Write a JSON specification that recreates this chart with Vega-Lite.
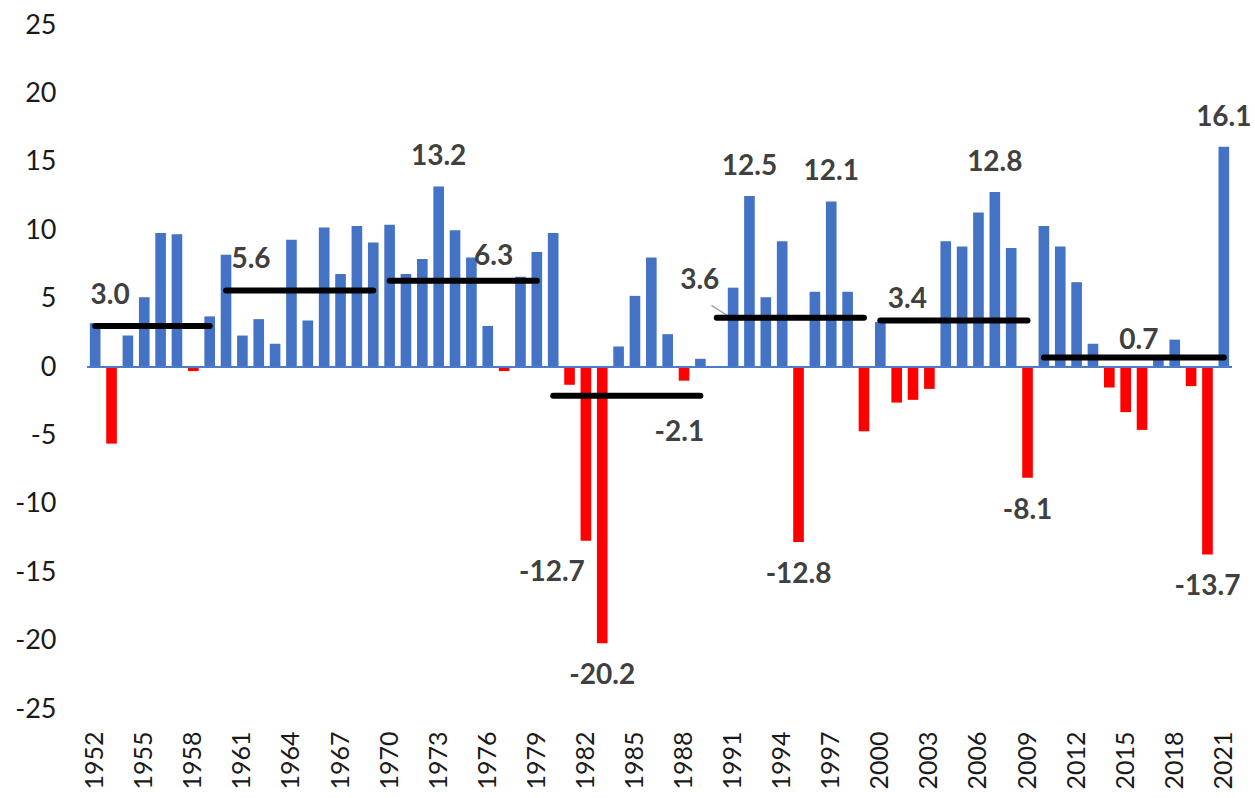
{
  "$schema": "https://vega.github.io/schema/vega-lite/v6.json",
  "width": 1145,
  "height": 684,
  "autosize": {"type": "none"},
  "padding": {"left": 87, "top": 25, "right": 23, "bottom": 89},
  "config": {
    "view": {"stroke": null},
    "font": "Lato",
    "locale": {"number": {"decimal": ".", "thousands": ",", "grouping": [3], "currency": ["$", ""], "minus": "-"}}
  },
  "datasets": {
    "growth": [
      {"year": 1952, "value": 3.2}, {"year": 1953, "value": -5.6}, {"year": 1954, "value": 2.3}, {"year": 1955, "value": 5.1},
      {"year": 1956, "value": 9.8}, {"year": 1957, "value": 9.7}, {"year": 1958, "value": -0.3}, {"year": 1959, "value": 3.7},
      {"year": 1960, "value": 8.2}, {"year": 1961, "value": 2.3}, {"year": 1962, "value": 3.5}, {"year": 1963, "value": 1.7},
      {"year": 1964, "value": 9.3}, {"year": 1965, "value": 3.4}, {"year": 1966, "value": 10.2}, {"year": 1967, "value": 6.8},
      {"year": 1968, "value": 10.3}, {"year": 1969, "value": 9.1}, {"year": 1970, "value": 10.4}, {"year": 1971, "value": 6.8},
      {"year": 1972, "value": 7.9}, {"year": 1973, "value": 13.2}, {"year": 1974, "value": 10.0}, {"year": 1975, "value": 8.0},
      {"year": 1976, "value": 3.0}, {"year": 1977, "value": -0.3}, {"year": 1978, "value": 6.6}, {"year": 1979, "value": 8.4},
      {"year": 1980, "value": 9.8}, {"year": 1981, "value": -1.3}, {"year": 1982, "value": -12.7}, {"year": 1983, "value": -20.2},
      {"year": 1984, "value": 1.5}, {"year": 1985, "value": 5.2}, {"year": 1986, "value": 8.0}, {"year": 1987, "value": 2.4},
      {"year": 1988, "value": -1.0}, {"year": 1989, "value": 0.6}, {"year": 1990, "value": 0.0}, {"year": 1991, "value": 5.8},
      {"year": 1992, "value": 12.5}, {"year": 1993, "value": 5.1}, {"year": 1994, "value": 9.2}, {"year": 1995, "value": -12.8},
      {"year": 1996, "value": 5.5}, {"year": 1997, "value": 12.1}, {"year": 1998, "value": 5.5}, {"year": 1999, "value": -4.7},
      {"year": 2000, "value": 3.3}, {"year": 2001, "value": -2.6}, {"year": 2002, "value": -2.4}, {"year": 2003, "value": -1.6},
      {"year": 2004, "value": 9.2}, {"year": 2005, "value": 8.8}, {"year": 2006, "value": 11.3}, {"year": 2007, "value": 12.8},
      {"year": 2008, "value": 8.7}, {"year": 2009, "value": -8.1}, {"year": 2010, "value": 10.3}, {"year": 2011, "value": 8.8},
      {"year": 2012, "value": 6.2}, {"year": 2013, "value": 1.7}, {"year": 2014, "value": -1.5}, {"year": 2015, "value": -3.3},
      {"year": 2016, "value": -4.6}, {"year": 2017, "value": 0.8}, {"year": 2018, "value": 2.0}, {"year": 2019, "value": -1.4},
      {"year": 2020, "value": -13.7}, {"year": 2021, "value": 16.1}
    ],
    "decades": [
      {"start": 1952, "end": 1959, "avg": 3.0},
      {"start": 1960, "end": 1969, "avg": 5.6},
      {"start": 1970, "end": 1979, "avg": 6.3},
      {"start": 1980, "end": 1989, "avg": -2.1},
      {"start": 1990, "end": 1999, "avg": 3.6},
      {"start": 2000, "end": 2009, "avg": 3.4},
      {"start": 2010, "end": 2021, "avg": 0.7}
    ],
    "leader": [
      {"from": 1990, "to": 1991, "top": 4.5, "bottom": 3.5}
    ]
  },
  "layer": [
    {
      "data": {"name": "growth"},
      "mark": {"type": "bar"},
      "encoding": {
        "x": {
          "field": "year", "type": "ordinal", "title": null,
          "scale": {"paddingInner": 0.35, "paddingOuter": 0.175},
          "axis": {
            "values": [1952, 1955, 1958, 1961, 1964, 1967, 1970, 1973, 1976, 1979, 1982, 1985, 1988, 1991, 1994, 1997, 2000, 2003, 2006, 2009, 2012, 2015, 2018, 2021],
            "labelAngle": -90, "labelAlign": "right", "labelBaseline": "middle",
            "labelPadding": 22, "ticks": false, "tickSize": 0, "domain": false, "grid": false,
            "labelFont": "Lato", "labelFontSize": 25, "labelColor": "#1a1a1a", "labelOverlap": false
          }
        },
        "y": {
          "field": "value", "type": "quantitative", "title": null,
          "scale": {"domain": [-25, 25], "nice": false, "zero": false},
          "axis": {
            "values": [-25, -20, -15, -10, -5, 0, 5, 10, 15, 20, 25],
            "grid": false, "domain": false, "ticks": false, "tickSize": 0, "labelPadding": 31,
            "labelFont": "Lato", "labelFontSize": 27, "labelColor": "#1a1a1a"
          }
        },
        "color": {"condition": {"test": "datum.value < 0", "value": "#FF0000"}, "value": "#4472C4"}
      }
    },
    {
      "data": {"values": [{}]},
      "mark": {"type": "rule", "color": "#4A7CCB", "strokeWidth": 2},
      "encoding": {"y": {"datum": 0, "type": "quantitative"}}
    },
    {
      "data": {"name": "leader"},
      "mark": {"type": "rule", "color": "#A6A6A6", "strokeWidth": 1.5},
      "encoding": {
        "x": {"field": "from", "type": "ordinal", "bandPosition": 0, "title": null},
        "x2": {"field": "to", "bandPosition": 0.5},
        "y": {"field": "top", "type": "quantitative", "title": null},
        "y2": {"field": "bottom"}
      }
    },
    {
      "data": {"name": "decades"},
      "mark": {"type": "rule", "color": "#000000", "strokeWidth": 6, "strokeCap": "round"},
      "encoding": {
        "x": {"field": "start", "type": "ordinal", "bandPosition": 0.5, "title": null},
        "x2": {"field": "end", "bandPosition": 0.5},
        "y": {"field": "avg", "type": "quantitative", "title": null}
      }
    },
    {
      "data": {"name": "growth"},
      "transform": [{"filter": {"field": "year", "oneOf": [1973, 1992, 1997, 2007, 2021]}}],
      "mark": {"type": "text", "font": "Lato", "fontSize": 28, "fontWeight": "bold", "color": "#404040", "baseline": "alphabetic", "dy": -21},
      "encoding": {
        "x": {"field": "year", "type": "ordinal", "title": null},
        "y": {"field": "value", "type": "quantitative", "title": null},
        "text": {"field": "value", "type": "quantitative", "format": ".1f"}
      }
    },
    {
      "data": {"name": "growth"},
      "transform": [{"filter": {"field": "year", "oneOf": [1983, 1995, 2009, 2020]}}],
      "mark": {"type": "text", "font": "Lato", "fontSize": 28, "fontWeight": "bold", "color": "#404040", "baseline": "alphabetic", "dy": 41},
      "encoding": {
        "x": {"field": "year", "type": "ordinal", "title": null},
        "y": {"field": "value", "type": "quantitative", "title": null},
        "text": {"field": "value", "type": "quantitative", "format": ".1f"}
      }
    },
    {
      "data": {"name": "growth"},
      "transform": [{"filter": {"field": "year", "equal": 1982}}],
      "mark": {"type": "text", "font": "Lato", "fontSize": 28, "fontWeight": "bold", "color": "#404040", "baseline": "alphabetic", "dy": 40, "dx": -34},
      "encoding": {
        "x": {"field": "year", "type": "ordinal", "title": null},
        "y": {"field": "value", "type": "quantitative", "title": null},
        "text": {"field": "value", "type": "quantitative", "format": ".1f"}
      }
    },
    {
      "data": {"name": "decades"},
      "transform": [{"filter": {"field": "start", "equal": 1952}}],
      "mark": {"type": "text", "font": "Lato", "fontSize": 28, "fontWeight": "bold", "color": "#404040", "baseline": "alphabetic", "dx": 15, "dy": -22},
      "encoding": {
        "x": {"field": "start", "type": "ordinal", "title": null},
        "y": {"field": "avg", "type": "quantitative", "title": null},
        "text": {"field": "avg", "type": "quantitative", "format": ".1f"}
      }
    },
    {
      "data": {"name": "decades"},
      "transform": [{"filter": {"field": "start", "equal": 1960}}],
      "mark": {"type": "text", "font": "Lato", "fontSize": 28, "fontWeight": "bold", "color": "#404040", "baseline": "alphabetic", "dx": 25, "dy": -22},
      "encoding": {
        "x": {"field": "start", "type": "ordinal", "title": null},
        "y": {"field": "avg", "type": "quantitative", "title": null},
        "text": {"field": "avg", "type": "quantitative", "format": ".1f"}
      }
    },
    {
      "data": {"name": "decades"},
      "transform": [{"filter": {"field": "start", "equal": 1970}}],
      "mark": {"type": "text", "font": "Lato", "fontSize": 28, "fontWeight": "bold", "color": "#404040", "baseline": "alphabetic", "dx": 104, "dy": -16},
      "encoding": {
        "x": {"field": "start", "type": "ordinal", "title": null},
        "y": {"field": "avg", "type": "quantitative", "title": null},
        "text": {"field": "avg", "type": "quantitative", "format": ".1f"}
      }
    },
    {
      "data": {"name": "decades"},
      "transform": [{"filter": {"field": "start", "equal": 1980}}],
      "mark": {"type": "text", "font": "Lato", "fontSize": 28, "fontWeight": "bold", "color": "#404040", "baseline": "alphabetic", "dx": -21, "dy": 45},
      "encoding": {
        "x": {"field": "end", "type": "ordinal", "title": null},
        "y": {"field": "avg", "type": "quantitative", "title": null},
        "text": {"field": "avg", "type": "quantitative", "format": ".1f"}
      }
    },
    {
      "data": {"name": "decades"},
      "transform": [{"filter": {"field": "start", "equal": 1990}}],
      "mark": {"type": "text", "font": "Lato", "fontSize": 28, "fontWeight": "bold", "color": "#404040", "baseline": "alphabetic", "dx": -17, "dy": -29},
      "encoding": {
        "x": {"field": "start", "type": "ordinal", "title": null},
        "y": {"field": "avg", "type": "quantitative", "title": null},
        "text": {"field": "avg", "type": "quantitative", "format": ".1f"}
      }
    },
    {
      "data": {"name": "decades"},
      "transform": [{"filter": {"field": "start", "equal": 2000}}],
      "mark": {"type": "text", "font": "Lato", "fontSize": 28, "fontWeight": "bold", "color": "#404040", "baseline": "alphabetic", "dx": 27, "dy": -12},
      "encoding": {
        "x": {"field": "start", "type": "ordinal", "title": null},
        "y": {"field": "avg", "type": "quantitative", "title": null},
        "text": {"field": "avg", "type": "quantitative", "format": ".1f"}
      }
    },
    {
      "data": {"name": "decades"},
      "transform": [{"filter": {"field": "start", "equal": 2010}}],
      "mark": {"type": "text", "font": "Lato", "fontSize": 28, "fontWeight": "bold", "color": "#404040", "baseline": "alphabetic", "dx": 95, "dy": -8},
      "encoding": {
        "x": {"field": "start", "type": "ordinal", "title": null},
        "y": {"field": "avg", "type": "quantitative", "title": null},
        "text": {"field": "avg", "type": "quantitative", "format": ".1f"}
      }
    }
  ]
}
